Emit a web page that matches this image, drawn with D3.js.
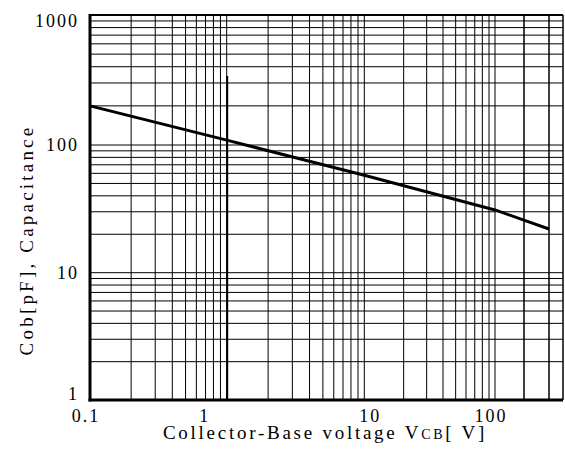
<!DOCTYPE html>
<html>
<head>
<meta charset="utf-8">
<script src="https://cdn.jsdelivr.net/npm/d3@7"></script>
<style>
body { margin: 0; background: #fff; }
svg { display: block; }
text { font-family: "Liberation Serif", "DejaVu Serif", serif; fill: #000; }
</style>
</head>
<body>
<div id="chart"></div>
<script>
const voltage = [0.1, 1, 10, 100, 300];
const capacitance = [200, 109, 58, 31, 22];

const xTickValues = [0.1, 1, 10, 100];
const xTickLabels = ["0.1", "1", "10", "100"];
const yTickValues = [1, 10, 100, 1000];
const yTickLabels = ["1", "10", "100", "1000"];

const xDecades = [0.1, 1, 10, 100];
const xExtraLines = [200, 300];
const yDecades = [1, 10, 100];

const width = 565;
const height = 452;
const plot = { left: 90, right: 563, top: 15, bottom: 400 };

// the printed grid isn't spaced evenly, so each decade gets its own piece
const x = d3.scaleLog()
    .domain([0.1, 1, 10, 100, 200, 300])
    .range([plot.left, 226.7, 364.3, 495, 524, 549]);

const y = d3.scaleLog()
    .domain([1, 10, 100, 1000])
    .range([plot.bottom, 272.7, 145, plot.top]);

const svg = d3.select("#chart")
    .append("svg")
    .attr("width", width)
    .attr("height", height);

const xGrid = [];
xDecades.forEach(d => { for (let k = 1; k <= 9; k++) xGrid.push(d * k); });
xExtraLines.forEach(v => xGrid.push(v));

const yGrid = [];
yDecades.forEach(d => { for (let k = 1; k <= 9; k++) yGrid.push(d * k); });
yGrid.push(1000);

const grid = svg.append("g").attr("stroke", "#000").attr("stroke-width", 1);

grid.selectAll("line.v")
    .data(xGrid)
    .join("line")
    .attr("class", "v")
    .attr("x1", d => x(d)).attr("x2", d => x(d))
    .attr("y1", plot.top).attr("y2", plot.bottom);

grid.selectAll("line.h")
    .data(yGrid)
    .join("line")
    .attr("class", "h")
    .attr("x1", plot.left).attr("x2", plot.right)
    .attr("y1", d => y(d)).attr("y2", d => y(d));

// the line at 1 V is doubled in the lower part of the sheet
grid.append("line")
    .attr("x1", x(1) + 0.5).attr("x2", x(1) + 0.5)
    .attr("y1", y(340)).attr("y2", plot.bottom)
    .attr("stroke-width", 2);

// frame
svg.append("line")
    .attr("x1", plot.left).attr("x2", plot.right)
    .attr("y1", plot.top).attr("y2", plot.top)
    .attr("stroke", "#000").attr("stroke-width", 2);
svg.append("line")
    .attr("x1", plot.right).attr("x2", plot.right)
    .attr("y1", plot.top).attr("y2", plot.bottom)
    .attr("stroke", "#000").attr("stroke-width", 1.5);
svg.append("line")
    .attr("x1", plot.left).attr("x2", plot.left)
    .attr("y1", plot.top - 1).attr("y2", plot.bottom + 1.5)
    .attr("stroke", "#000").attr("stroke-width", 3);
svg.append("line")
    .attr("x1", plot.left - 1.5).attr("x2", plot.right)
    .attr("y1", plot.bottom).attr("y2", plot.bottom)
    .attr("stroke", "#000").attr("stroke-width", 3);

// curve
const line = d3.line()
    .x((d, i) => x(voltage[i]))
    .y(d => y(d));

svg.append("path")
    .datum(capacitance)
    .attr("d", line)
    .attr("fill", "none")
    .attr("stroke", "#000")
    .attr("stroke-width", 3)
    .attr("stroke-linejoin", "round");

// tick labels (the sheet has them a little off the grid lines)
const xLabelShift = { 0.1: -4, 1: -22, 10: 6, 100: -4 };

svg.append("g")
    .selectAll("text")
    .data(xTickValues)
    .join("text")
    .attr("x", d => x(d) + xLabelShift[d])
    .attr("y", 422)
    .attr("text-anchor", "middle")
    .attr("font-size", 18)
    .attr("letter-spacing", 2)
    .text((d, i) => xTickLabels[i]);

svg.append("g")
    .selectAll("text")
    .data(yTickValues)
    .join("text")
    .attr("x", 79)
    .attr("y", d => Math.min(394, Math.max(21, y(d))))
    .attr("dy", "0.35em")
    .attr("text-anchor", "end")
    .attr("font-size", 18)
    .attr("letter-spacing", 2)
    .text((d, i) => yTickLabels[i]);

// axis titles, spread out to the typewriter width of the original
function spread(sel, target) {
    const n = sel.text().length;
    const natural = sel.node().getComputedTextLength();
    sel.attr("letter-spacing", (target - natural) / n);
}

const xTitle = svg.append("text")
    .attr("x", 325)
    .attr("y", 439)
    .attr("text-anchor", "middle")
    .attr("font-size", 19);
xTitle.append("tspan").text("Collector-Base voltage  V");
xTitle.append("tspan").attr("font-size", 14).text("CB");
xTitle.append("tspan").text("[ V]");
spread(xTitle, 327);

const yTitle = svg.append("text")
    .attr("transform", "translate(33,240) rotate(-90)")
    .attr("text-anchor", "middle")
    .attr("font-size", 19)
    .text("Cob[pF],  Capacitance");
spread(yTitle, 234);
</script>
</body>
</html>
